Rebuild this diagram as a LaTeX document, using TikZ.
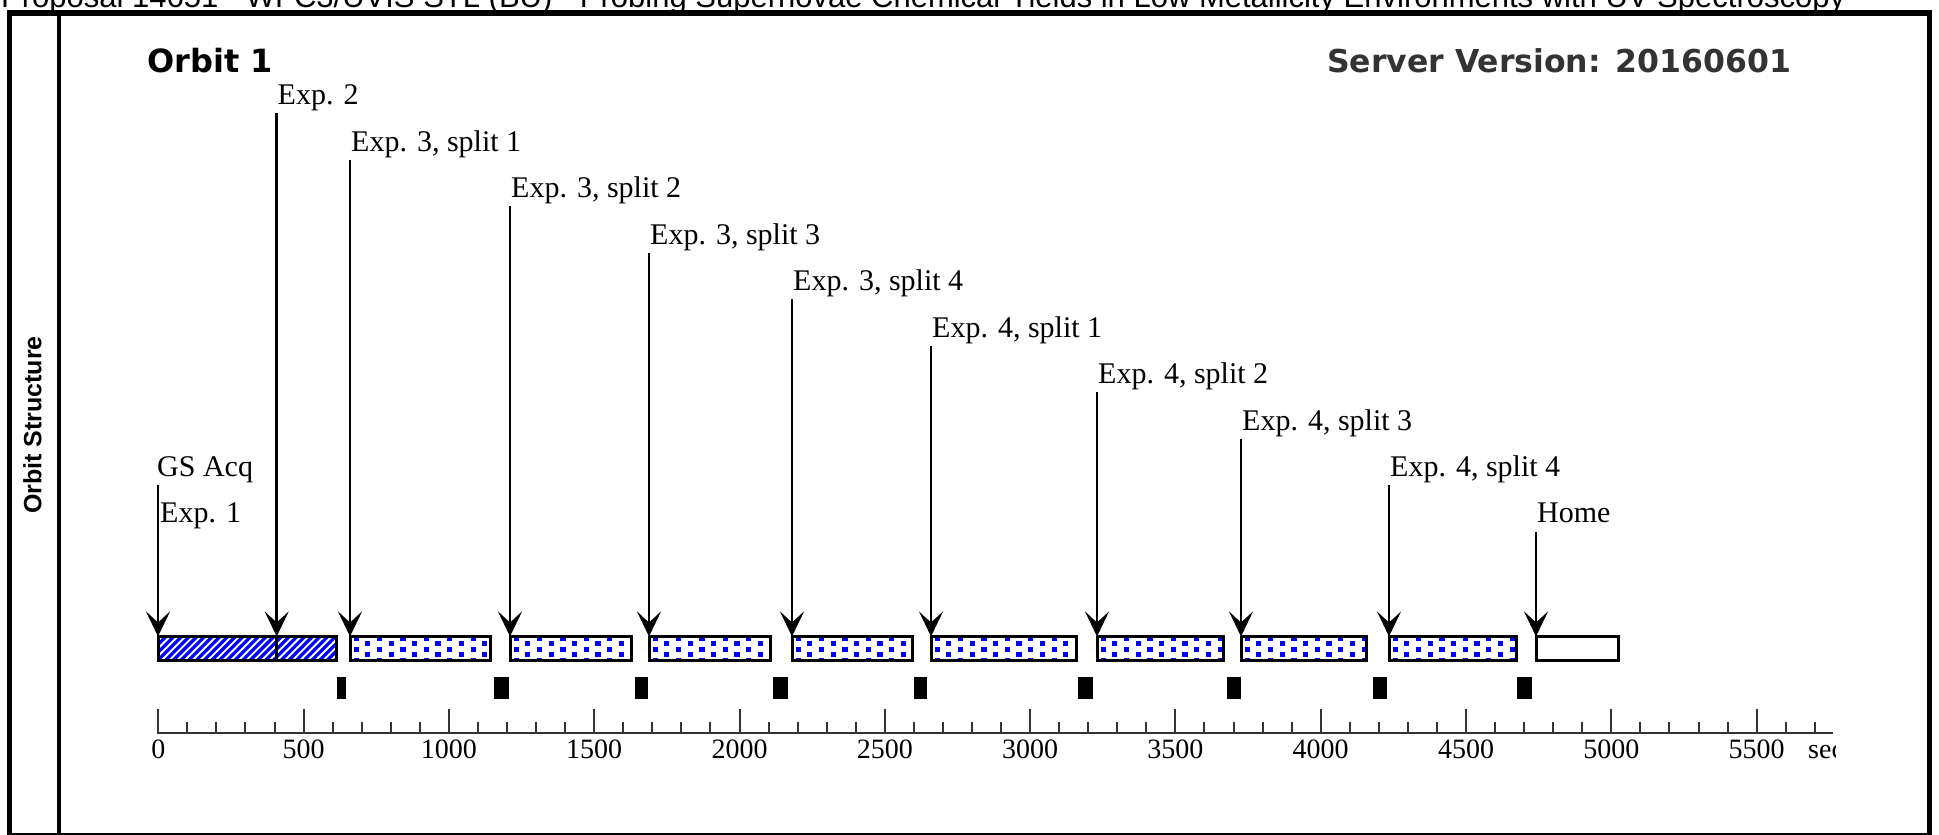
\documentclass[tikz,border=0pt]{standalone}
\usepackage{fontspec}
\setmainfont{Liberation Serif}
\newfontfamily\arialf{Liberation Sans}
\newfontfamily\dvsf{DejaVu Sans}
\usetikzlibrary{arrows.meta,calc}
\definecolor{hblue}{RGB}{0,0,255}
\definecolor{axgray}{RGB}{51,51,51}
\newcommand{\hatchfill}[2]{%
  \begin{scope}
    \clip (#1,636.5) rectangle (#2,660.5);
    \foreach \k in {-1,...,30}{\draw[hblue,line width=3.2pt] ({#1+\k*7.7-24},661) -- ({#1+\k*7.7+1},636);}
  \end{scope}}
\newcommand{\dotsfill}[2]{%
  \begin{scope}
    \clip (#1,636.5) rectangle (#2,660.5);
    \foreach \r in {0,...,4}{\foreach \c in {0,...,7}{%
      \fill[hblue] ({#1+3.5+\c*23.4+mod(\r,2)*11.7},{635.5+\r*5.6}) rectangle ++(5.2,5);}}
  \end{scope}}
\begin{document}
\begin{tikzpicture}[x=1pt,y=-1pt,
  lbl/.style={font=\fontsize{30}{36}\selectfont, inner sep=0pt, anchor=base west},
  ax/.style={font=\fontsize{28}{34}\selectfont, inner sep=0pt, anchor=base},
  barbox/.style={draw=black, line width=3pt, inner sep=0pt, outer sep=0pt, anchor=north west, minimum height=24pt},
  gapbox/.style={fill=black, inner sep=0pt, outer sep=0pt, anchor=north west, minimum height=22pt},
  arr/.style={line width=2.5pt, -{Stealth[length=25pt,width=24pt,inset=11pt]}},
  tick/.style={draw=axgray, line width=2pt},
  frame/.style={draw=black},
]
\useasboundingbox (0,0) rectangle (1939,835);
\clip (0,0) rectangle (1939,835);
\fill[white] (0,0) rectangle (1939,835);

% header text (cut by the page edge)
\node[font=\arialf\fontsize{31}{35}\selectfont, anchor=base west, inner sep=0pt] (title) at (1,8)
  {Proposal 14651 - WFC3/UVIS STL (BU) - Probing Supernovae Chemical Yields in Low Metallicity Environments with UV Spectroscopy};

% frame
\draw[frame, line width=5.5pt] (7,13) -- (1932,13);
\draw[frame, line width=4.7pt] (9.7,11) -- (9.7,835);
\draw[frame, line width=4pt] (58.7,11) -- (58.7,835);
\draw[frame, line width=5pt] (1929.5,11) -- (1929.5,835);
\draw[frame, line width=1.5pt] (7,834) -- (1932,834);

\node[font=\arialf\bfseries\fontsize{25}{30}\selectfont, rotate=90, anchor=base, inner sep=0pt] (os) at (41.5,425) {Orbit Structure};

\node[font=\dvsf\bfseries\fontsize{32}{38}\selectfont, anchor=base west, inner sep=0pt] (orb) at (147,72) {Orbit 1};
\node[font=\dvsf\bfseries\fontsize{31.5}{38}\selectfont, text=axgray, anchor=base west, inner sep=0pt] (sv) at (1327,72) {Server Version: 20160601};

% pattern fills
\hatchfill{158}{336}
\dotsfill{350}{490}
\dotsfill{510}{631}
\dotsfill{649}{770}
\dotsfill{792}{912}
\dotsfill{931}{1076}
\dotsfill{1097}{1223}
\dotsfill{1241}{1366}
\dotsfill{1389}{1516}

% bars
\node[barbox, minimum width=118.7pt] (b1a) at (158,636.5) {};
\node[barbox, minimum width=59.3pt] (b1b) at (276.7,636.5) {};
\node[barbox, minimum width=140pt] (b2) at (350,636.5) {};
\node[barbox, minimum width=121pt] (b3) at (510,636.5) {};
\node[barbox, minimum width=121pt] (b4) at (649,636.5) {};
\node[barbox, minimum width=120pt] (b5) at (792,636.5) {};
\node[barbox, minimum width=145pt] (b6) at (931,636.5) {};
\node[barbox, minimum width=126pt] (b7) at (1097,636.5) {};
\node[barbox, minimum width=125pt] (b8) at (1241,636.5) {};
\node[barbox, minimum width=127pt] (b9) at (1389,636.5) {};
\node[barbox, minimum width=82pt] (b10) at (1536,636.5) {};

% black gap marks
\node[gapbox, minimum width=8.5pt] (g1) at (337,677) {};
\node[gapbox, minimum width=15pt] (g2) at (494,677) {};
\node[gapbox, minimum width=13.5pt] (g3) at (634.5,677) {};
\node[gapbox, minimum width=15pt] (g4) at (773,677) {};
\node[gapbox, minimum width=13.5pt] (g5) at (913.5,677) {};
\node[gapbox, minimum width=15pt] (g6) at (1078,677) {};
\node[gapbox, minimum width=14pt] (g7) at (1227,677) {};
\node[gapbox, minimum width=14pt] (g8) at (1373,677) {};
\node[gapbox, minimum width=15pt] (g9) at (1517,677) {};

% labels
\node[lbl] (gs) at (157,476) {GS Acq};
\node[lbl] (e1) at (160,522) {Exp. 1};
\node[lbl] (e2) at (277.5,104) {Exp. 2};
\node[lbl] (e31) at (351,151) {Exp. 3, split 1};
\node[lbl] (e32) at (511,197) {Exp. 3, split 2};
\node[lbl] (e33) at (650,244) {Exp. 3, split 3};
\node[lbl] (e34) at (793,290) {Exp. 3, split 4};
\node[lbl] (e41) at (932,337) {Exp. 4, split 1};
\node[lbl] (e42) at (1098,383) {Exp. 4, split 2};
\node[lbl] (e43) at (1242,430) {Exp. 4, split 3};
\node[lbl] (e44) at (1390,476) {Exp. 4, split 4};
\node[lbl] (home) at (1537,522) {Home};

% arrows
\draw[arr] ($(b1a.north west |- gs.base)+(0,9)$) -- (b1a.north west);
\draw[arr] ($(b1b.north west |- e2.base)+(0,9)$) -- (b1b.north west);
\draw[arr] ($(b2.north west |- e31.base)+(0,9)$) -- (b2.north west);
\draw[arr] ($(b3.north west |- e32.base)+(0,9)$) -- (b3.north west);
\draw[arr] ($(b4.north west |- e33.base)+(0,9)$) -- (b4.north west);
\draw[arr] ($(b5.north west |- e34.base)+(0,9)$) -- (b5.north west);
\draw[arr] ($(b6.north west |- e41.base)+(0,9)$) -- (b6.north west);
\draw[arr] ($(b7.north west |- e42.base)+(0,9)$) -- (b7.north west);
\draw[arr] ($(b8.north west |- e43.base)+(0,9)$) -- (b8.north west);
\draw[arr] ($(b9.north west |- e44.base)+(0,9)$) -- (b9.north west);
\draw[arr] ($(b10.north west |- home.base)+(0,10)$) -- (b10.north west);

% time axis
\draw[tick] (157.3,733.3) -- (1833,733.3);
\foreach \t in {100,200,...,5700}{\draw[tick] ({158.3+0.2906*\t},721.5) -- ({158.3+0.2906*\t},733.3);}
\foreach \t in {0,500,...,5500}{%
  \draw[tick] ({158.3+0.2906*\t},709) -- ({158.3+0.2906*\t},733.3);
  \node[ax] (n\t) at ({158.3+0.2906*\t},758) {\t};}
\begin{scope}
  \clip (1790,735) rectangle (1835,780);
  \node[ax, anchor=base west] (sec) at (1808,758) {sec};
\end{scope}
\end{tikzpicture}
\end{document}
